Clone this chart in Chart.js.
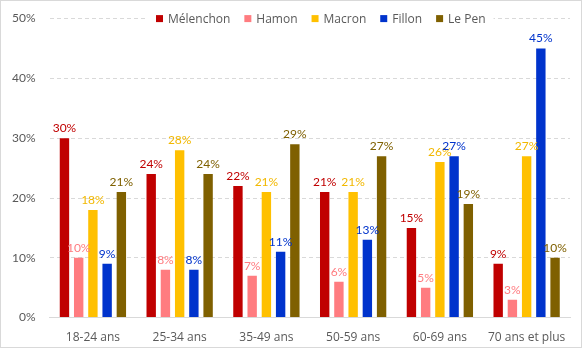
<!DOCTYPE html>
<html>
<head>
<meta charset="utf-8">
<script src="https://cdn.jsdelivr.net/npm/chart.js@4/dist/chart.umd.min.js"></script>
<style>
  html, body { margin: 0; padding: 0; background: #fff; }
  #wrap { position: relative; width: 580px; height: 346px; border: 1px solid #D9D9D9; }
  canvas { display: block; }
</style>
</head>
<body>
<div id="wrap"><canvas id="c" width="580" height="346"></canvas></div>
<script>
// Vote par tranche d'âge (%)
const categories = ["18-24 ans", "25-34 ans", "35-49 ans", "50-59 ans", "60-69 ans", "70 ans et plus"];
const melenchon = [30, 24, 22, 21, 15, 9];
const hamon     = [10, 8, 7, 6, 5, 3];
const macron    = [18, 28, 21, 21, 26, 27];
const fillon    = [9, 8, 11, 13, 27, 45];
const lepen     = [21, 24, 29, 27, 19, 10];
const yTicks    = [0, 10, 20, 30, 40, 50];

const NUM_FONT = "Lato, 'Open Sans', sans-serif";
const TXT_FONT = "'Open Sans', Lato, sans-serif";

const series = [
  { label: "Mélenchon", data: melenchon, color: "#C00000", text: "#C00000" },
  { label: "Hamon",     data: hamon,     color: "#FF7C80", text: "#FF7C80" },
  { label: "Macron",    data: macron,    color: "#FFC000", text: "#F2B800" },
  { label: "Fillon",    data: fillon,    color: "#0033CC", text: "#0033CC" },
  { label: "Le Pen",    data: lepen,     color: "#7F6000", text: "#7F6000" }
];

// Percentage labels above each bar
const valueLabels = {
  id: "valueLabels",
  afterDatasetsDraw(chart) {
    const ctx = chart.ctx;
    ctx.save();
    ctx.font = "12px " + NUM_FONT;
    ctx.textAlign = "center";
    ctx.textBaseline = "bottom";
    chart.data.datasets.forEach((ds, i) => {
      const meta = chart.getDatasetMeta(i);
      meta.data.forEach((bar, j) => {
        ctx.fillStyle = series[i].text;
        ctx.fillText(ds.data[j] + "%", bar.x, bar.y - 4);
      });
    });
    ctx.restore();
  }
};

// Legend drawn across the top of the plot on a white band
const topLegend = {
  id: "topLegend",
  afterDraw(chart) {
    const ctx = chart.ctx;
    const area = chart.chartArea;
    ctx.save();
    ctx.font = "12px " + TXT_FONT;
    const box = 7, gapText = 5, gapItem = 14;
    const widths = series.map(s => box + gapText + ctx.measureText(s.label).width);
    const total = widths.reduce((a, b) => a + b, 0) + gapItem * (series.length - 1);
    let x = (area.left + area.right) / 2 + 11 - total / 2;
    const y = area.top;
    ctx.fillStyle = "#fff";
    ctx.fillRect(x - 8, y - 9, total + 16, 18);
    ctx.textBaseline = "middle";
    series.forEach((s, i) => {
      ctx.fillStyle = s.color;
      ctx.fillRect(x, y - box / 2, box, box);
      ctx.fillStyle = "#595959";
      ctx.fillText(s.label, x + box + gapText, y + 1);
      x += widths[i] + gapItem;
    });
    ctx.restore();
  }
};

new Chart(document.getElementById("c"), {
  type: "bar",
  data: {
    labels: categories,
    datasets: series.map(s => ({
      label: s.label,
      data: s.data,
      backgroundColor: s.color,
      categoryPercentage: 0.82,
      barPercentage: 0.66
    }))
  },
  options: {
    responsive: false,
    animation: false,
    layout: { padding: { top: 0, right: 11, left: -3, bottom: -11 } },
    plugins: {
      legend: { display: false },
      tooltip: { enabled: false }
    },
    scales: {
      x: {
        grid: { display: false, drawTicks: false },
        border: { color: "#D9D9D9" },
        ticks: { color: "#595959", font: { family: TXT_FONT, size: 12 }, padding: 13 }
      },
      y: {
        min: 0, max: 50,
        afterBuildTicks(axis) { axis.ticks = yTicks.map(v => ({ value: v })); },
        grid: { color: "#D9D9D9", drawTicks: false },
        border: { display: false, dash: [4, 3] },
        ticks: {
          color: "#595959", font: { family: NUM_FONT, size: 12, lineHeight: 0.6 }, padding: 14,
          callback: v => v + "%"
        }
      }
    }
  },
  plugins: [valueLabels, topLegend]
});
</script>
</body>
</html>
